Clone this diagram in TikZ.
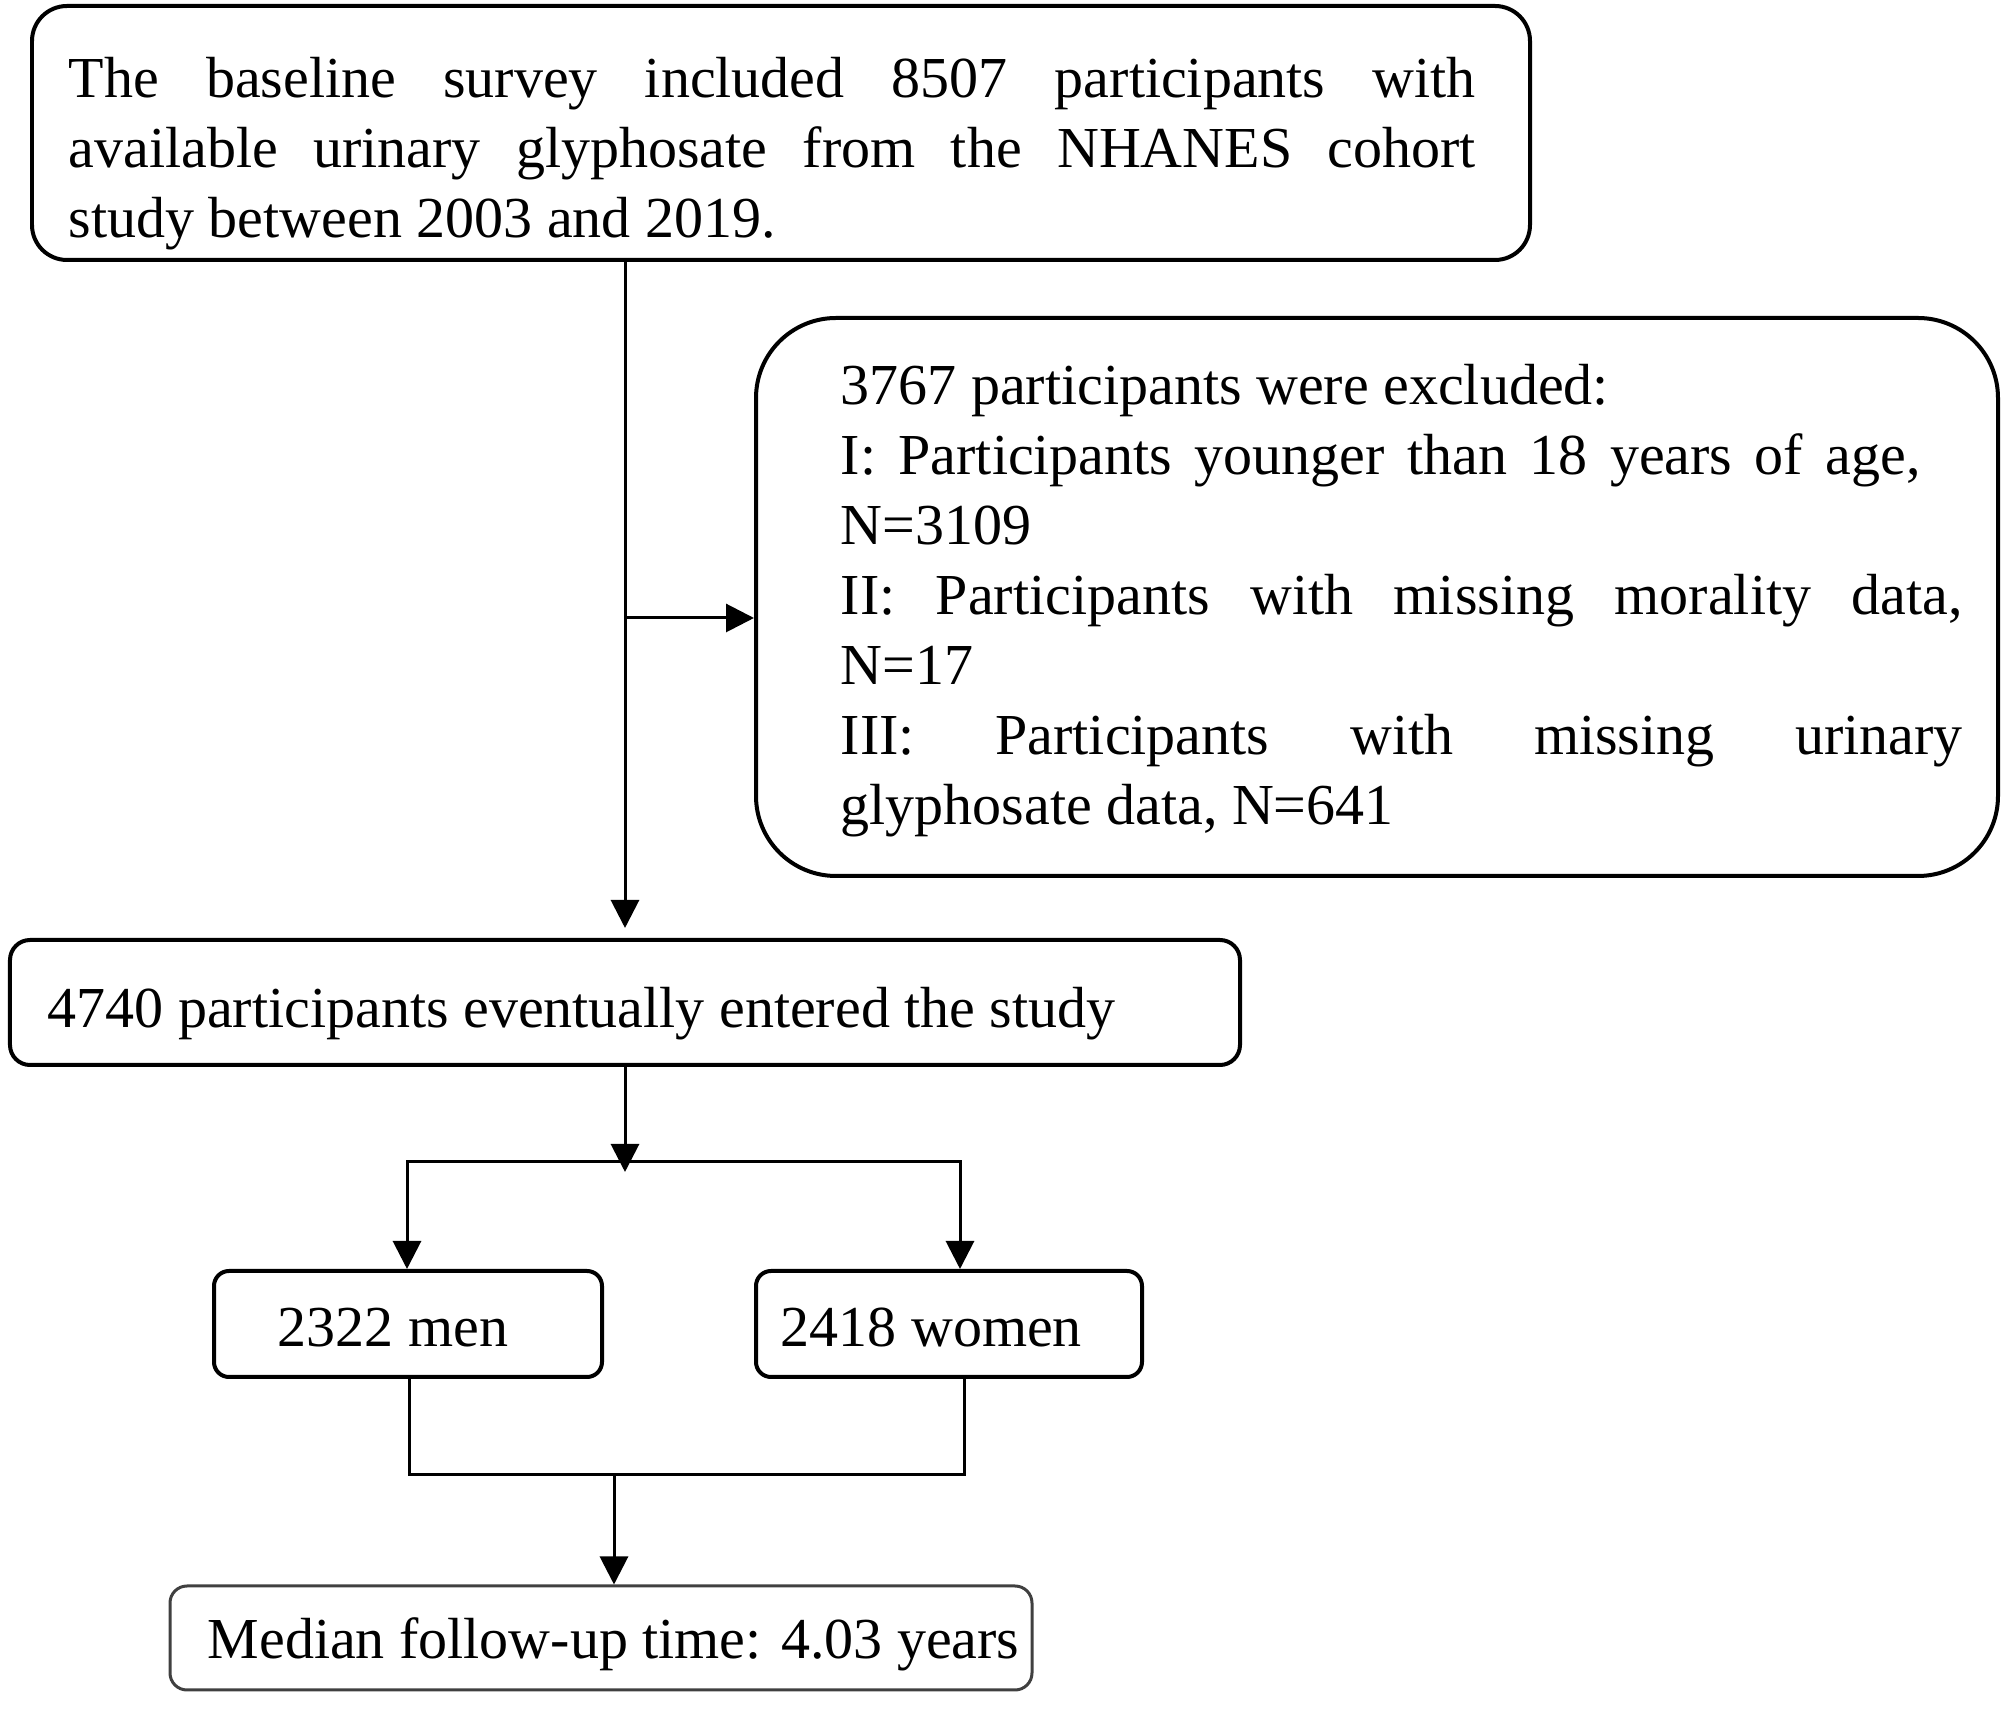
\documentclass[tikz,border=0pt]{standalone}
\usepackage{fontspec}
\setmainfont{Liberation Serif}
\usepackage{tikz}
\usetikzlibrary{positioning, calc, arrows.meta}
\tikzset{>={Triangle[length=0.28cm,width=0.28cm]}}
\tikzset{
  box/.style={draw, line width=0.04cm, rounded corners=0.15cm, inner sep=0pt},
  txt/.style={inner sep=0pt, font=\fontsize{16.5}{19.9}\selectfont},
  line/.style={line width=0.03cm}
}
\hbadness=10000

\begin{document}
\begin{tikzpicture}
    \useasboundingbox (0,0) rectangle (20.08,-17.10);

    \node[box, rounded corners=0.35cm, minimum width=14.98cm, minimum height=2.54cm] (base) at (7.81,-1.33) {};
    \node[txt, text width=14.07cm, align=justify, anchor=north west] (basetext) at (0.68,-0.566) {
      The baseline survey included 8507 participants with\linebreak
      available urinary glyphosate from the NHANES cohort\linebreak
      study between 2003 and 2019.
    };

    \node[box, rounded corners=0.8cm, minimum width=12.42cm, minimum height=5.58cm] (excl) at (13.77,-5.97) {};
    \node[txt, text width=11.22cm, align=justify, anchor=north west] (excltext) at (8.40,-3.636) {
      3767 participants were excluded:\\
      I: Participants younger than 18 years of age,\hspace*{0.42cm}\linebreak
      N=3109\\
      II: Participants with missing morality data,\linebreak
      N=17\\
      III: Participants with missing urinary\linebreak
      glyphosate data, N=641
    };

    \node[box, rounded corners=0.2cm, minimum width=12.30cm, minimum height=1.25cm] (entered) at (6.25,-10.025) {};
    \node[txt, anchor=base west] (enteredtext) at (0.47,-10.28) {4740 participants eventually entered the study};

    \node[box, minimum width=3.88cm, minimum height=1.06cm] (men) at (4.08,-13.24) {};
    \node[txt, anchor=base west] (mentext) at (2.77,-13.47) {2322 men};

    \node[box, minimum width=3.86cm, minimum height=1.06cm] (women) at (9.49,-13.24) {};
    \node[txt, anchor=base west] (womentext) at (7.80,-13.47) {2418 women};

    \node[box, draw=black!75, line width=0.03cm, rounded corners=0.17cm, minimum width=8.62cm, minimum height=1.04cm] (median) at (6.01,-16.38) {};
    \node[txt, anchor=base west] (mediantext) at (2.07,-16.59) {Median follow-up time: 4.03 years};

    \coordinate (split) at (6.25,-6.18);
    \coordinate (fork) at (6.25,-11.62);
    \coordinate (forkL) at (4.07,-11.62);
    \coordinate (forkR) at (9.60,-11.62);
    \coordinate (mergeL) at (4.09,-14.75);
    \coordinate (mergeR) at (9.64,-14.75);
    \coordinate (merge) at (6.14,-14.75);

    \draw[line, ->, shorten >=0.1cm] (base.south -| entered.north) -- (entered.north);
    \draw[line, ->] (split) -- (split -| excl.west);
    \draw[line, ->, shorten >=-0.1cm] (entered.south) -- (fork);
    \draw[line, <->] (forkL |- men.north) -- (forkL) -- (forkR) -- (forkR |- women.north);
    \draw[line] (mergeL |- men.south) -- (mergeL) -- (mergeR) -- (mergeR |- women.south);
    \draw[line, ->] (merge) -- (merge |- median.north);
  \end{tikzpicture}
\end{document}
